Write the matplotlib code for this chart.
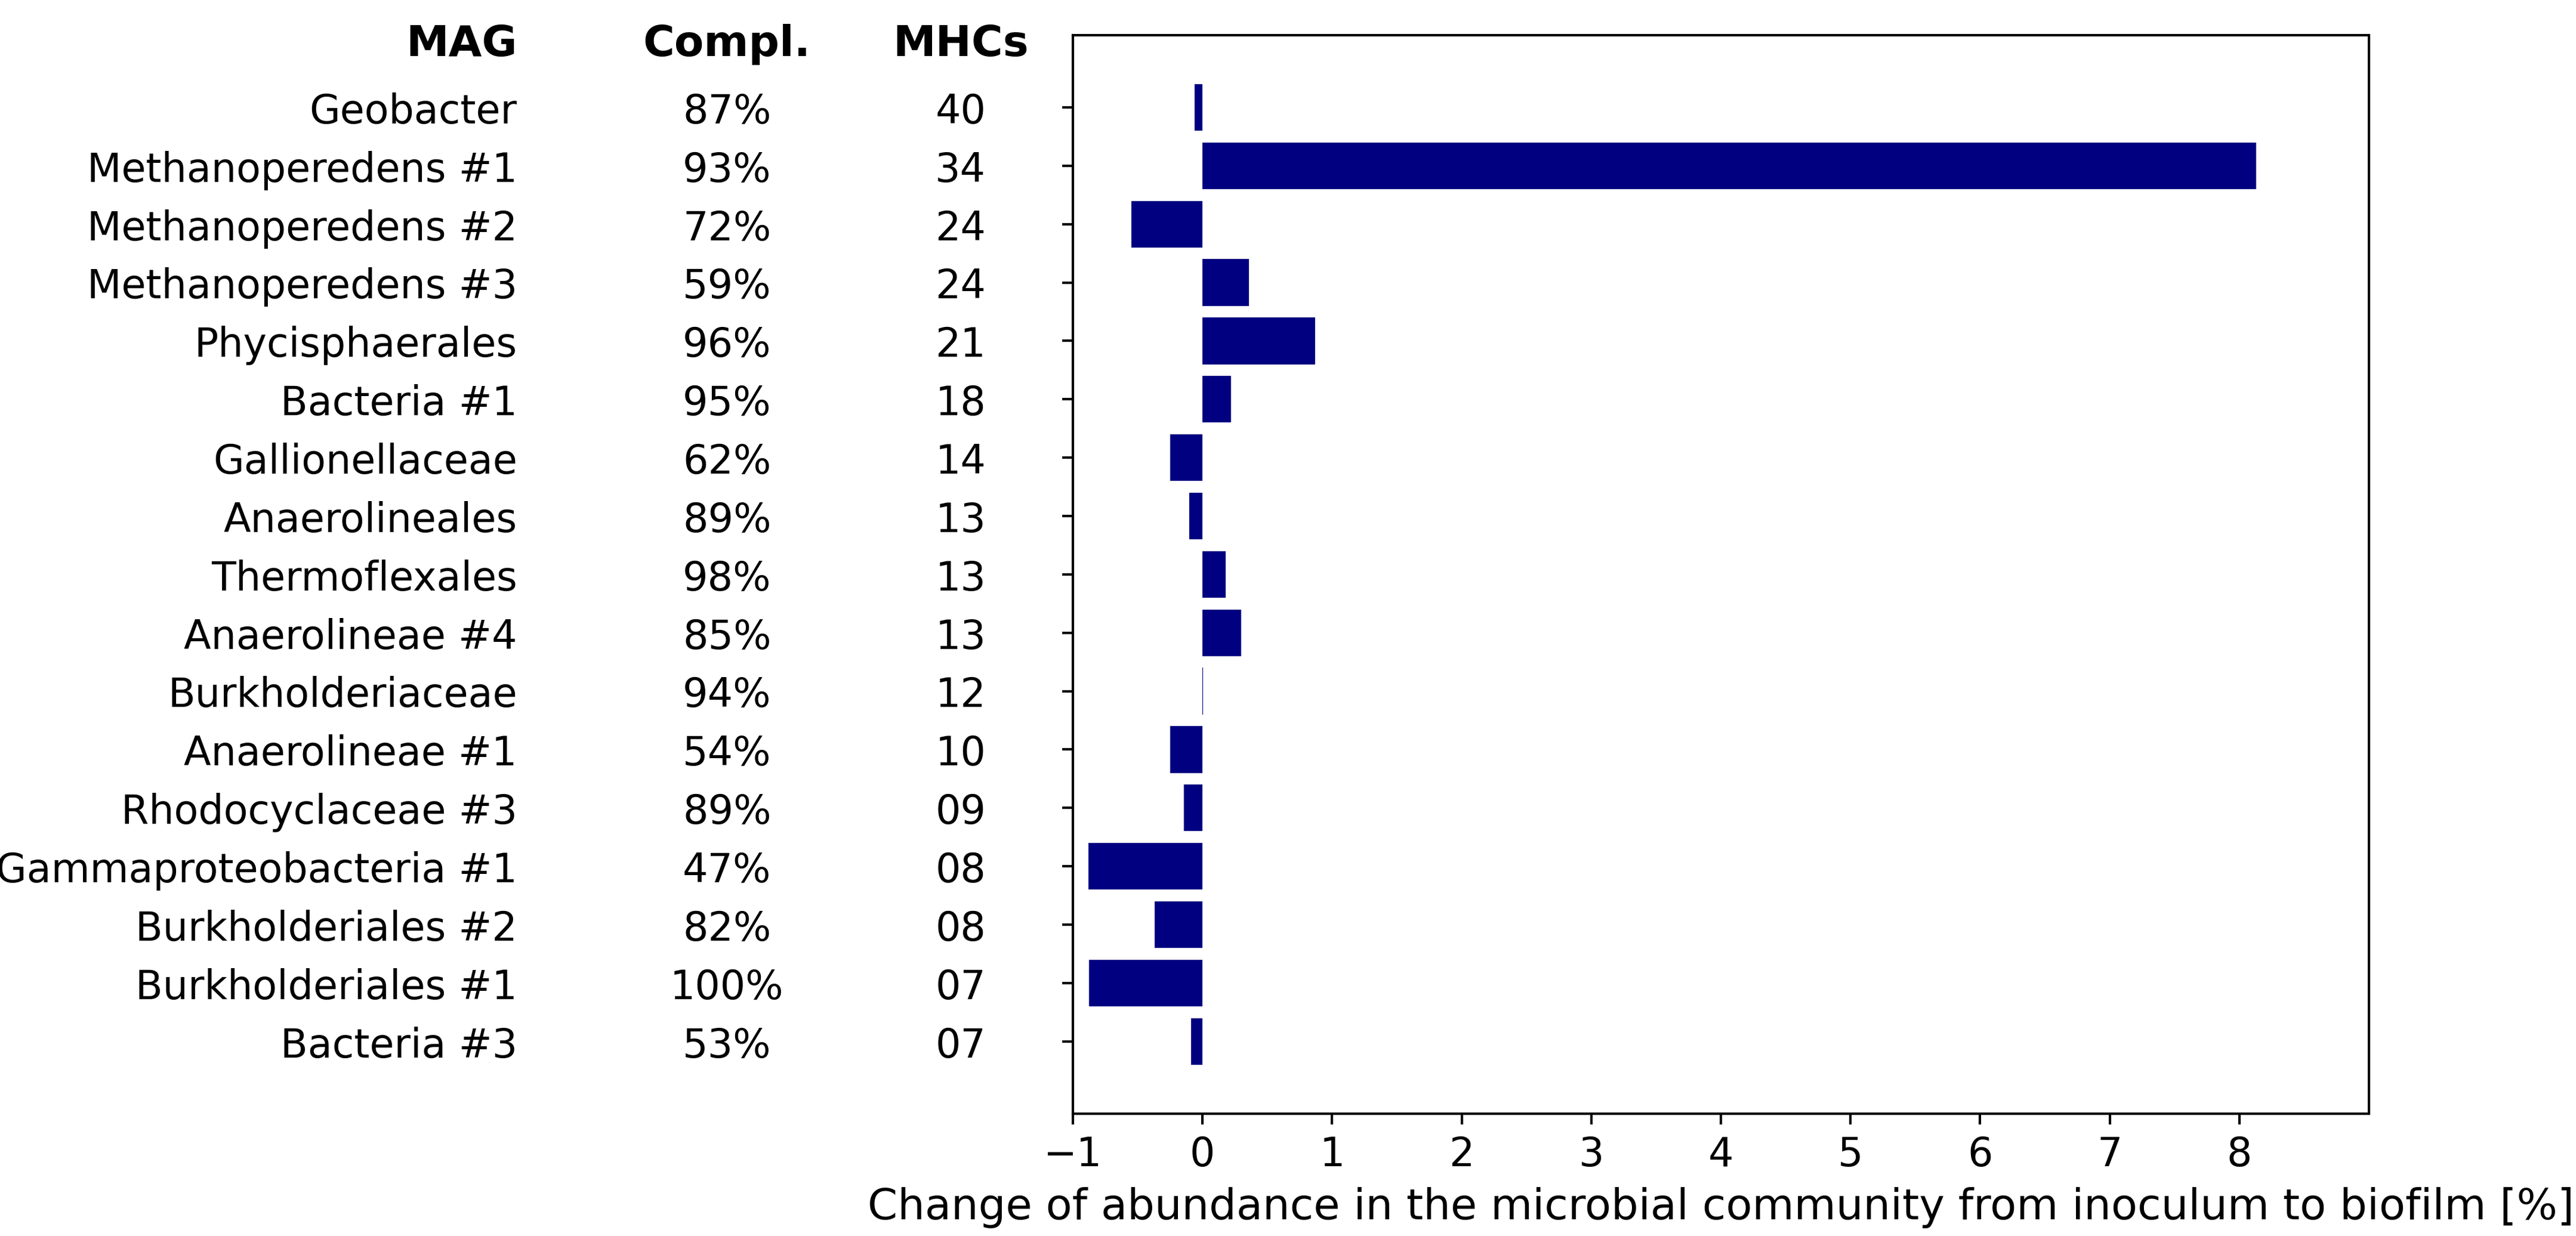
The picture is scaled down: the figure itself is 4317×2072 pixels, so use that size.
import matplotlib
matplotlib.use("Agg")
import matplotlib.pyplot as plt
import numpy as np

# MAG table (top to bottom)
mags = ["Geobacter", "Methanoperedens #1", "Methanoperedens #2", "Methanoperedens #3",
        "Phycisphaerales", "Bacteria #1", "Gallionellaceae", "Anaerolineales",
        "Thermoflexales", "Anaerolineae #4", "Burkholderiaceae", "Anaerolineae #1",
        "Rhodocyclaceae #3", "Gammaproteobacteria #1", "Burkholderiales #2",
        "Burkholderiales #1", "Bacteria #3"]
completeness = ["87%", "93%", "72%", "59%", "96%", "95%", "62%", "89%", "98%",
                "85%", "94%", "54%", "89%", "47%", "82%", "100%", "53%"]
mhcs = ["40", "34", "24", "24", "21", "18", "14", "13", "13", "13", "12",
        "10", "09", "08", "08", "07", "07"]
# change of abundance from inoculum to biofilm [%]
change = [-0.06, 8.13, -0.55, 0.36, 0.87, 0.22, -0.25, -0.10, 0.18, 0.30,
          0.004, -0.25, -0.145, -0.88, -0.37, -0.875, -0.09]

dpi = 370
plt.rcParams["font.size"] = 13

fig = plt.figure(figsize=(4317 / dpi, 2072 / dpi), dpi=dpi)
ax = fig.add_axes([0.4165, 0.0989, 0.5031, 0.8728])

y = np.arange(len(mags))
ax.barh(y, change, height=0.8, color="navy")
ax.invert_yaxis()
ax.set_yticks(y)
ax.set_yticklabels([])
ax.set_xlim(-1, 9)
ax.set_xticks(np.arange(-1, 9))
ax.set_xlabel("Change of abundance in the microbial community from inoculum to biofilm [%]",
              fontsize=14)

# table columns left of the axes
trans = matplotlib.transforms.blended_transform_factory(ax.transAxes, ax.transData)
for i in range(len(mags)):
    ax.text(-0.4288, y[i] + 0.08, mags[i], ha="right", va="center", transform=trans)
    ax.text(-0.2669, y[i] + 0.08, completeness[i], ha="center", va="center", transform=trans)
    ax.text(-0.0867, y[i] + 0.08, mhcs[i], ha="center", va="center", transform=trans)

for xpos, ha, head in [(-0.4288, "right", "MAG"), (-0.2669, "center", "Compl."),
                       (-0.0867, "center", "MHCs")]:
    ax.text(xpos, -0.88, head, ha=ha, va="baseline", fontweight="bold",
            fontsize=14, transform=trans)

fig.savefig("out.png", dpi=dpi)
